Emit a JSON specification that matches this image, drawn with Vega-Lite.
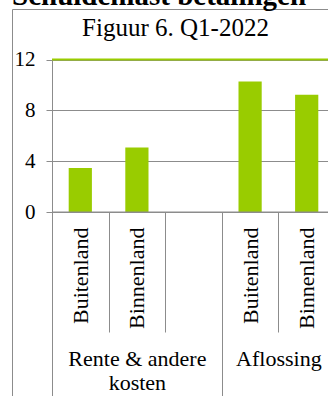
{
  "$schema": "https://vega.github.io/schema/vega-lite/v6.json",
  "width": 326,
  "height": 400,
  "autosize": {"type": "none"},
  "padding": {"left": 12, "top": 9, "right": -10, "bottom": -13},
  "background": "white",
  "config": {
    "view": {"stroke": "#8c8c8c", "strokeWidth": 1},
    "font": "Liberation Serif",
    "axis": {
      "labelFont": "Liberation Serif",
      "titleFont": "Liberation Serif",
      "labelColor": "black",
      "domainColor": "#8c8c8c",
      "tickColor": "#8c8c8c",
      "gridColor": "#8c8c8c",
      "gridOpacity": 1
    }
  },
  "title": {
    "text": "Schuldenlast betalingen",
    "anchor": "start",
    "frame": "group",
    "font": "Liberation Serif",
    "fontSize": 29,
    "fontWeight": "bold",
    "color": "black",
    "baseline": "alphabetic",
    "offset": -25
  },
  "datasets": {
    "schuld": [
      {"groep": "Rente & andere kosten", "land": "Buitenland", "kolom": "r1", "waarde": 3.47},
      {"groep": "Rente & andere kosten", "land": "Binnenland", "kolom": "r2", "waarde": 5.07},
      {"groep": "Aflossing", "land": "Buitenland", "kolom": "a1", "waarde": 10.27},
      {"groep": "Aflossing", "land": "Binnenland", "kolom": "a2", "waarde": 9.23}
    ]
  },
  "layer": [
    {
      "data": {"name": "schuld"},
      "mark": {"type": "bar", "color": "#99cc00", "width": {"band": 0.41}},
      "encoding": {
        "x": {
          "field": "kolom",
          "type": "nominal",
          "sort": null,
          "scale": {"domain": ["r1", "r2", "r3", "a1", "a2"], "range": [40, 323], "paddingInner": 0, "paddingOuter": 0},
          "axis": {
            "orient": "bottom",
            "offset": -197,
            "title": null,
            "grid": false,
            "domain": true,
            "tickBand": "extent",
            "tickSize": 120,
            "labelAngle": -90,
            "labelAlign": "right",
            "labelBaseline": "middle",
            "labelFontSize": 22,
            "labelPadding": -105,
            "labelExpr": "(datum.value == 'r1' || datum.value == 'a1') ? 'Buitenland' : (datum.value == 'r2' || datum.value == 'a2') ? 'Binnenland' : ''"
          }
        },
        "y": {
          "field": "waarde",
          "type": "quantitative",
          "title": "Figuur 6. Q1-2022",
          "scale": {"domain": [0, 12], "range": [203, 50.5], "nice": false},
          "axis": {
            "orient": "left",
            "offset": -40,
            "values": [0, 4, 8, 12],
            "grid": true,
            "tickSize": 6,
            "labelPadding": 11,
            "labelFontSize": 21,
            "titleAngle": 0,
            "titleAlign": "center",
            "titleBaseline": "alphabetic",
            "titleX": 123,
            "titleY": 26.5,
            "titleFontSize": 25,
            "titleFontWeight": "normal",
            "titleColor": "black"
          }
        }
      }
    },
    {
      "data": {"values": [{}]},
      "mark": {"type": "rule", "color": "#99cc00", "strokeWidth": 2},
      "encoding": {
        "x": {
          "datum": 0,
          "type": "quantitative",
          "scale": {"domain": [0, 5], "range": [40, 323], "nice": false, "zero": false},
          "axis": {
            "orient": "bottom",
            "offset": -197,
            "title": null,
            "grid": false,
            "domain": false,
            "ticks": false,
            "values": [1.5, 4],
            "labelFontSize": 22,
            "labelPadding": 136,
            "labelLineHeight": 24,
            "labelFlush": false,
            "labelOverlap": false,
            "labelExpr": "datum.value == 1.5 ? ['Rente & andere', 'kosten'] : 'Aflossing'"
          }
        },
        "x2": {"datum": 5},
        "y": {"datum": 12}
      }
    },
    {
      "data": {"values": [{}]},
      "mark": {"type": "rule", "color": "#8c8c8c", "strokeWidth": 1},
      "encoding": {
        "x": {
          "datum": 0,
          "type": "quantitative",
          "scale": {"domain": [0, 5], "range": [40, 323], "nice": false, "zero": false},
          "axis": {
            "orient": "bottom",
            "offset": -197,
            "title": null,
            "grid": false,
            "domain": false,
            "labels": false,
            "ticks": true,
            "tickSize": 200,
            "values": [0, 3, 5]
          }
        },
        "x2": {"datum": 5},
        "y": {"datum": 0}
      }
    }
  ],
  "resolve": {"scale": {"x": "independent"}, "axis": {"x": "independent"}}
}
